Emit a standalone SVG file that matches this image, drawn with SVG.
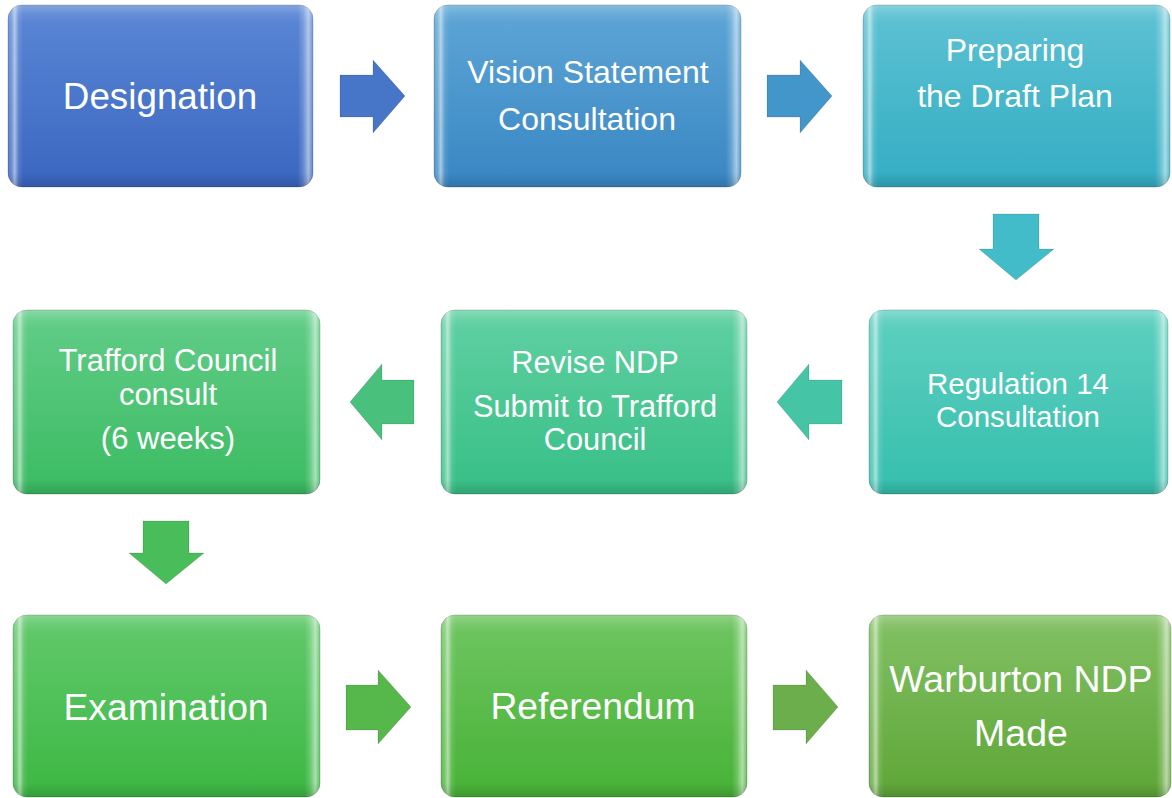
<svg xmlns="http://www.w3.org/2000/svg" width="1172" height="798" viewBox="0 0 1172 798">
<defs>
<style>
.box{stroke:rgba(0,0,0,0.2);stroke-width:1}
.hl{fill:url(#hbev)}
.vl{fill:url(#vbev)}
.t{font-family:"Liberation Sans",Arial,sans-serif;fill:#fff;text-anchor:middle}
.arr{stroke:rgba(0,0,0,0.12);stroke-width:1}
</style>
<linearGradient id="hbev" x1="0" y1="0" x2="1" y2="0">
<stop offset="0" stop-color="#fff" stop-opacity="0.1"/>
<stop offset="0.012" stop-color="#fff" stop-opacity="0.25"/>
<stop offset="0.022" stop-color="#fff" stop-opacity="0.55"/>
<stop offset="0.035" stop-color="#fff" stop-opacity="0.12"/>
<stop offset="0.05" stop-color="#fff" stop-opacity="0"/>
<stop offset="0.95" stop-color="#fff" stop-opacity="0"/>
<stop offset="0.968" stop-color="#fff" stop-opacity="0.2"/>
<stop offset="0.985" stop-color="#fff" stop-opacity="0.55"/>
<stop offset="1" stop-color="#fff" stop-opacity="0.15"/>
</linearGradient>
<linearGradient id="vbev" x1="0" y1="0" x2="0" y2="1">
<stop offset="0" stop-color="#fff" stop-opacity="0.25"/>
<stop offset="0.05" stop-color="#fff" stop-opacity="0.08"/>
<stop offset="0.1" stop-color="#fff" stop-opacity="0"/>
<stop offset="0.92" stop-color="#000" stop-opacity="0"/>
<stop offset="1" stop-color="#000" stop-opacity="0.14"/>
</linearGradient>
<linearGradient id="g1" x1="0" y1="0" x2="0" y2="1"><stop offset="0" stop-color="#5b87d6"/><stop offset="1" stop-color="#3a66c0"/></linearGradient>
<linearGradient id="g2" x1="0" y1="0" x2="0" y2="1"><stop offset="0" stop-color="#5ea6d6"/><stop offset="1" stop-color="#3886c3"/></linearGradient>
<linearGradient id="g3" x1="0" y1="0" x2="0" y2="1"><stop offset="0" stop-color="#5ec2d3"/><stop offset="1" stop-color="#33adc3"/></linearGradient>
<linearGradient id="g6" x1="0" y1="0" x2="0" y2="1"><stop offset="0" stop-color="#5fd0c0"/><stop offset="1" stop-color="#35bead"/></linearGradient>
<linearGradient id="g5" x1="0" y1="0" x2="0" y2="1"><stop offset="0" stop-color="#60d0a2"/><stop offset="1" stop-color="#37bf86"/></linearGradient>
<linearGradient id="g4" x1="0" y1="0" x2="0" y2="1"><stop offset="0" stop-color="#62cd88"/><stop offset="1" stop-color="#3bbb62"/></linearGradient>
<linearGradient id="g7" x1="0" y1="0" x2="0" y2="1"><stop offset="0" stop-color="#62c96c"/><stop offset="1" stop-color="#3cb743"/></linearGradient>
<linearGradient id="g8" x1="0" y1="0" x2="0" y2="1"><stop offset="0" stop-color="#6fc561"/><stop offset="1" stop-color="#47b236"/></linearGradient>
<linearGradient id="g9" x1="0" y1="0" x2="0" y2="1"><stop offset="0" stop-color="#82c064"/><stop offset="1" stop-color="#5ea637"/></linearGradient>
</defs>
<rect width="1172" height="798" fill="#fff"/>

<g id="connectors">
<polygon class="arr" fill="#4775c8" points="340,75 373,75 373,60 405,96 373,133 373,117 340,117"/>
<polygon class="arr" fill="#4296ca" points="767,75 800,75 800,60 832,96 800,133 800,117 767,117"/>
<polygon class="arr" fill="#42bcc8" points="993,214 1039,214 1039,249 1054,249 1016,280 979,249 993,249"/>
<polygon class="arr" fill="#46c5a6" points="842,380 809,380 809,364 777,402 809,440 809,424 842,424"/>
<polygon class="arr" fill="#49c07c" points="414,380 382,380 382,364 350,402 382,440 382,424 414,424"/>
<polygon class="arr" fill="#48bd5a" points="143,521 189,521 189,553 204,553 166,584 129,553 143,553"/>
<polygon class="arr" fill="#56b84a" points="346,685 378,685 378,670 411,707 378,744 378,730 346,730"/>
<polygon class="arr" fill="#6cae4b" points="773,685 806,685 806,670 838,707 806,744 806,730 773,730"/>
</g>

<g id="designation">
<rect class="box" x="8" y="5" width="305" height="182" rx="14" fill="url(#g1)"/>
<rect class="hl" x="8" y="5" width="305" height="182" rx="14"/>
<rect class="vl" x="8" y="5" width="305" height="182" rx="14"/>
<text class="t" x="160" y="109" font-size="36.8">Designation</text>
</g>

<g id="vision">
<rect class="box" x="434" y="5" width="307" height="182" rx="14" fill="url(#g2)"/>
<rect class="hl" x="434" y="5" width="307" height="182" rx="14"/>
<rect class="vl" x="434" y="5" width="307" height="182" rx="14"/>
<text class="t" x="588" y="83" font-size="32">Vision Statement</text>
<text class="t" x="587" y="130" font-size="32">Consultation</text>
</g>

<g id="draft">
<rect class="box" x="863" y="5" width="307" height="182" rx="14" fill="url(#g3)"/>
<rect class="hl" x="863" y="5" width="307" height="182" rx="14"/>
<rect class="vl" x="863" y="5" width="307" height="182" rx="14"/>
<text class="t" x="1015" y="61" font-size="32">Preparing</text>
<text class="t" x="1015" y="107" font-size="32">the Draft Plan</text>
</g>

<g id="reg14">
<rect class="box" x="869" y="310" width="299" height="184" rx="14" fill="url(#g6)"/>
<rect class="hl" x="869" y="310" width="299" height="184" rx="14"/>
<rect class="vl" x="869" y="310" width="299" height="184" rx="14"/>
<text class="t" x="1018" y="394" font-size="29.5">Regulation 14</text>
<text class="t" x="1018" y="427" font-size="29.5">Consultation</text>
</g>

<g id="revise">
<rect class="box" x="441" y="310" width="306" height="184" rx="14" fill="url(#g5)"/>
<rect class="hl" x="441" y="310" width="306" height="184" rx="14"/>
<rect class="vl" x="441" y="310" width="306" height="184" rx="14"/>
<text class="t" x="595" y="373" font-size="30.8">Revise NDP</text>
<text class="t" x="595" y="417" font-size="30.8">Submit to Trafford</text>
<text class="t" x="595" y="450" font-size="30.8">Council</text>
</g>

<g id="trafford">
<rect class="box" x="13" y="310" width="307" height="184" rx="14" fill="url(#g4)"/>
<rect class="hl" x="13" y="310" width="307" height="184" rx="14"/>
<rect class="vl" x="13" y="310" width="307" height="184" rx="14"/>
<text class="t" x="168" y="371" font-size="31">Trafford Council</text>
<text class="t" x="168" y="405" font-size="31">consult</text>
<text class="t" x="168" y="449" font-size="31">(6 weeks)</text>
</g>

<g id="examination">
<rect class="box" x="13" y="615" width="307" height="182" rx="14" fill="url(#g7)"/>
<rect class="hl" x="13" y="615" width="307" height="182" rx="14"/>
<rect class="vl" x="13" y="615" width="307" height="182" rx="14"/>
<text class="t" x="166" y="720" font-size="37.3">Examination</text>
</g>

<g id="referendum">
<rect class="box" x="441" y="615" width="306" height="182" rx="14" fill="url(#g8)"/>
<rect class="hl" x="441" y="615" width="306" height="182" rx="14"/>
<rect class="vl" x="441" y="615" width="306" height="182" rx="14"/>
<text class="t" x="593" y="719" font-size="37.3">Referendum</text>
</g>

<g id="made">
<rect class="box" x="869" y="615" width="302" height="182" rx="14" fill="url(#g9)"/>
<rect class="hl" x="869" y="615" width="302" height="182" rx="14"/>
<rect class="vl" x="869" y="615" width="302" height="182" rx="14"/>
<text class="t" x="1021" y="692" font-size="37.5">Warburton NDP</text>
<text class="t" x="1021" y="746" font-size="37.5">Made</text>
</g>
</svg>
